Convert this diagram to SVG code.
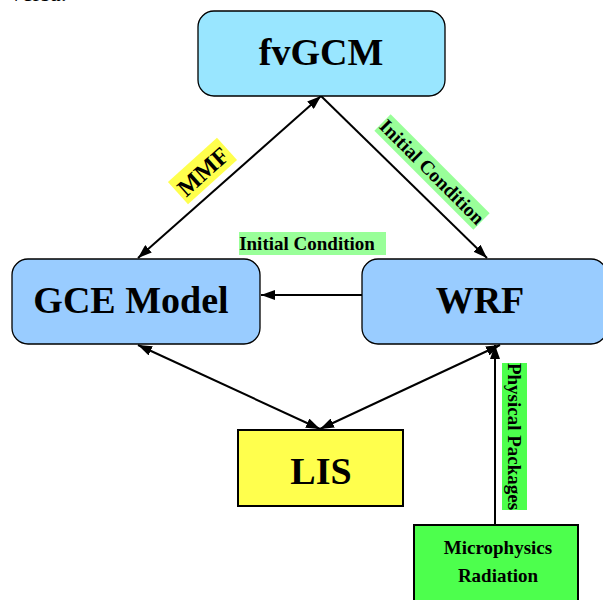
<svg xmlns="http://www.w3.org/2000/svg" width="603" height="600" viewBox="0 0 603 600">
<defs>
<style>
.node{stroke:#000;stroke-width:1.3}
.big{font-family:"Liberation Serif",serif;font-weight:bold;font-size:38px;fill:#000;text-anchor:middle}
.lbl{font-family:"Liberation Serif",serif;font-weight:bold;font-size:19px;fill:#000;text-anchor:middle;dominant-baseline:central}
.conn{stroke:#000;stroke-width:2;fill:none}
</style>
<marker id="ah" viewBox="0 0 14 10" refX="14" refY="5" markerWidth="14" markerHeight="10" markerUnits="userSpaceOnUse" orient="auto-start-reverse">
<path d="M0,0 L14,5 L0,10 Z" fill="#000"/>
</marker>
</defs>
<rect width="603" height="600" fill="#fff"/>
<text x="10" y="1" style="font-family:'Liberation Serif',serif;font-size:24px">versa.</text>

<g id="connectors">
<line class="conn" x1="138" y1="258" x2="321" y2="96" marker-start="url(#ah)" marker-end="url(#ah)"/>
<line class="conn" x1="321" y1="96" x2="487" y2="258" marker-end="url(#ah)"/>
<line class="conn" x1="362" y1="295" x2="261" y2="295" marker-end="url(#ah)"/>
<line class="conn" x1="138" y1="345" x2="320" y2="429" marker-start="url(#ah)" marker-end="url(#ah)"/>
<line class="conn" x1="500" y1="345" x2="320" y2="429" marker-start="url(#ah)" marker-end="url(#ah)"/>
<line class="conn" x1="495" y1="525" x2="495" y2="345" marker-end="url(#ah)"/>
<g transform="translate(202.5,171) rotate(-42)">
<rect x="-33" y="-15" width="66" height="30" fill="#ffff4d"/>
<text class="lbl" x="0" y="1" style="font-size:24px">MMF</text>
</g>
<g transform="translate(432,172) rotate(45)">
<rect x="-70" y="-11.5" width="140" height="23" fill="#99ff99"/>
<text class="lbl" x="0" y="0" style="font-size:19.5px">Initial Condition</text>
</g>
<rect x="239" y="232" width="147" height="23" fill="#99ff99"/>
<text class="lbl" x="307" y="243">Initial Condition</text>
<g transform="translate(514.5,436.5) rotate(90)">
<rect x="-73.5" y="-12.5" width="147" height="25" fill="#4dff4d"/>
<text class="lbl" x="0" y="0">Physical Packages</text>
</g>
</g>

<g id="fvgcm">
<rect class="node" x="198" y="11" width="247" height="85" rx="16" fill="#99e6ff"/>
<text class="big" x="321" y="65">fvGCM</text>
</g>
<g id="gce">
<rect class="node" x="12" y="259" width="248" height="85" rx="16" fill="#99ccff"/>
<text class="big" x="131" y="313">GCE Model</text>
</g>
<g id="wrf">
<rect class="node" x="362" y="259" width="245" height="85" rx="16" fill="#99ccff"/>
<text class="big" x="480" y="313">WRF</text>
</g>
<g id="lis">
<rect x="238" y="430" width="165" height="76" fill="#ffff4d" stroke="#000" stroke-width="2"/>
<text class="big" x="321" y="484">LIS</text>
</g>
<g id="micro">
<rect x="414" y="525" width="164" height="82" fill="#4dff4d" stroke="#000" stroke-width="2"/>
<text class="lbl" x="498" y="547">Microphysics</text>
<text class="lbl" x="498" y="575">Radiation</text>
</g>
</svg>
